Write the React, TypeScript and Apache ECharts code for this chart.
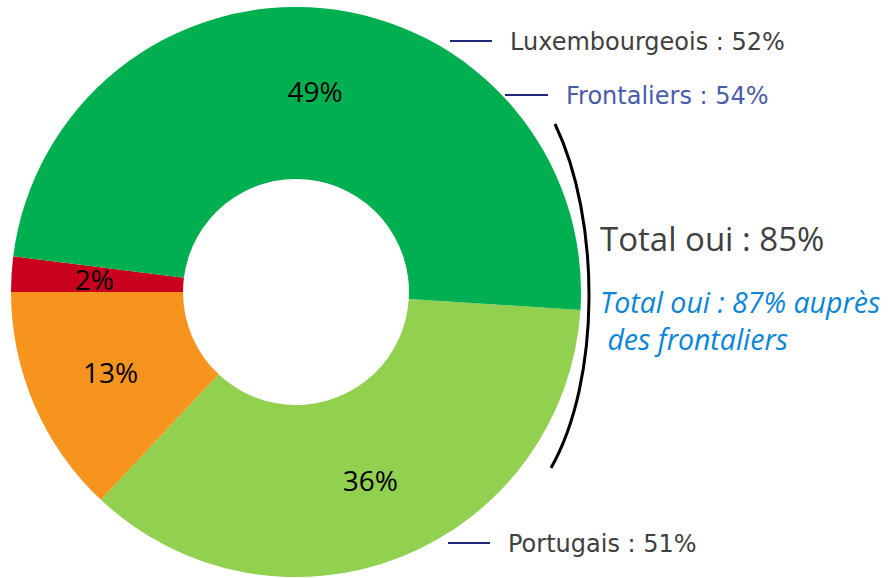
import React, { useEffect, useRef } from "react";
import * as echarts from "echarts";

const categories = ["Oui, tout à fait", "Plutôt non", "Non, pas du tout", "Oui, plutôt"];
const values = [36, 13, 2, 49];
const sliceColors = ["#92D050", "#F7941D", "#C8001E", "#00AF50"];
const groupLabels = ["Luxembourgeois : 52%", "Frontaliers : 54%", "Portugais : 51%"];
const totalLabel = "Total oui : 85%";
const totalFrontLabel = ["Total oui : 87% auprès", " des frontaliers"];

export default function App() {
  const ref = useRef<HTMLDivElement>(null);
  useEffect(() => {
    if (!ref.current) return;
    const chart = echarts.init(ref.current, null, { renderer: "svg" });
    const sideFont = "'DejaVu Sans', Verdana, sans-serif";
    chart.setOption({
      animation: false,
      backgroundColor: "#ffffff",
      series: [
        {
          type: "pie",
          center: [296, 292],
          radius: [113, 285],
          startAngle: -3.6,
          clockwise: true,
          silent: true,
          label: {
            show: true,
            position: "inside",
            formatter: "{c}%",
            color: "#000000",
            fontSize: 28,
            fontFamily: "'Open Sans', sans-serif",
          },
          labelLine: { show: false },
          itemStyle: { borderWidth: 0 },
          emphasis: { disabled: true },
          data: categories.map((c, i) => ({
            name: c,
            value: values[i],
            itemStyle: { color: sliceColors[i] },
          })),
        },
      ],
      graphic: [
        { type: "line", shape: { x1: 450, y1: 41, x2: 492, y2: 41 }, style: { stroke: "#1F2A7A", lineWidth: 2 } },
        { type: "text", x: 510, y: 42, style: { text: groupLabels[0], fill: "#404040", fontSize: 24, fontFamily: sideFont, verticalAlign: "middle" } },
        { type: "line", shape: { x1: 505, y1: 95, x2: 548, y2: 95 }, style: { stroke: "#1F2A7A", lineWidth: 2 } },
        { type: "text", x: 566, y: 96, style: { text: groupLabels[1], fill: "#4A5BAA", fontSize: 24, fontFamily: sideFont, verticalAlign: "middle" } },
        { type: "line", shape: { x1: 448, y1: 543, x2: 490, y2: 543 }, style: { stroke: "#1F2A7A", lineWidth: 2 } },
        { type: "text", x: 508, y: 544, style: { text: groupLabels[2], fill: "#404040", fontSize: 24, fontFamily: sideFont, verticalAlign: "middle" } },
        {
          type: "bezierCurve",
          shape: { x1: 555, y1: 124, cpx1: 601, cpy1: 220, cpx2: 601, cpy2: 380, x2: 551, y2: 468 },
          style: { stroke: "#000000", lineWidth: 3, fill: "none" },
        },
        { type: "text", x: 600, y: 238, style: { text: totalLabel, fill: "#404040", fontSize: 33, fontFamily: "'Open Sans', sans-serif", verticalAlign: "middle" } },
        { type: "text", x: 600, y: 302, style: { text: totalFrontLabel[0], fill: "#0A86D8", fontSize: 28.5, fontStyle: "italic", fontFamily: "'Open Sans', sans-serif", verticalAlign: "middle" } },
        { type: "text", x: 600, y: 339, style: { text: totalFrontLabel[1], fill: "#0A86D8", fontSize: 28.5, fontStyle: "italic", fontFamily: "'Open Sans', sans-serif", verticalAlign: "middle" } },
      ],
    });
    return () => chart.dispose();
  }, []);
  return <div ref={ref} style={{ position: "fixed", left: 0, top: 0, width: 890, height: 578 }} />;
}
